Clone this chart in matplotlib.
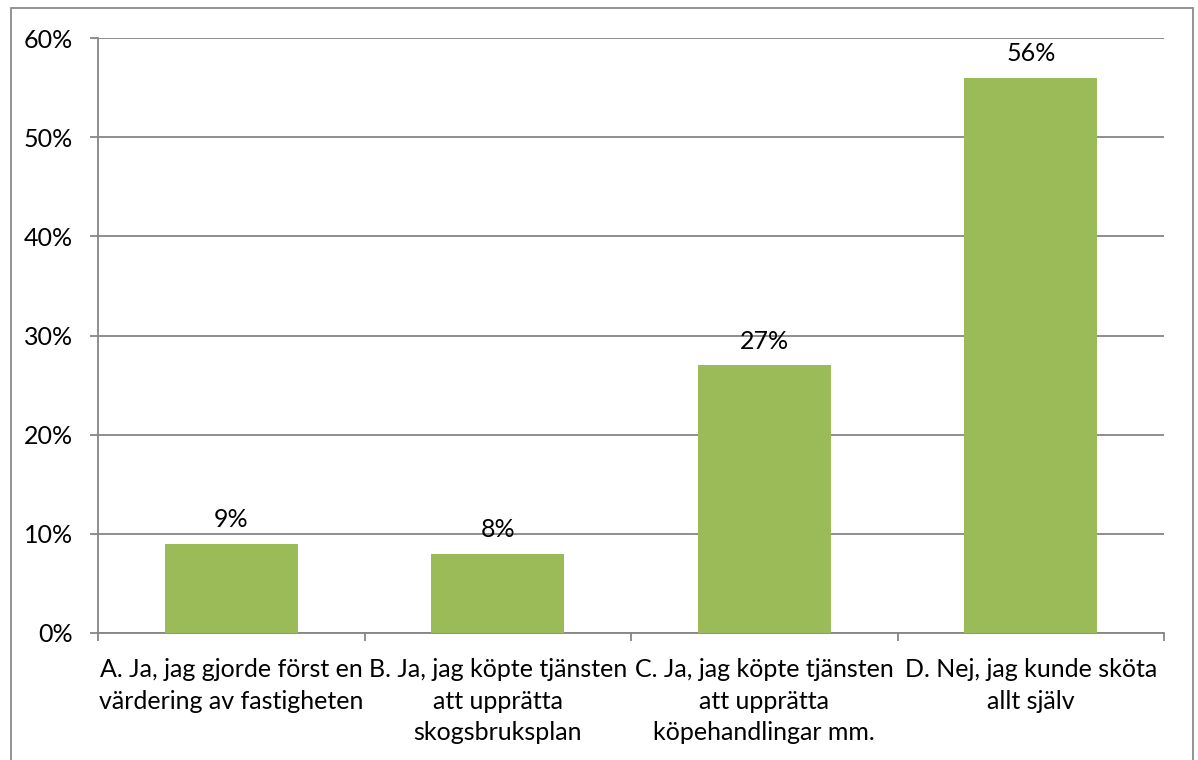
import matplotlib
matplotlib.use("Agg")
import matplotlib.pyplot as plt
from matplotlib.patches import Rectangle
from matplotlib.ticker import FixedLocator, FuncFormatter

categories = [
    "A. Ja, jag gjorde först en\nvärdering av fastigheten",
    "B. Ja, jag köpte tjänsten\natt upprätta\nskogsbruksplan",
    "C. Ja, jag köpte tjänsten\natt upprätta\nköpehandlingar mm.",
    "D. Nej, jag kunde sköta\nallt själv",
]
values = [9, 8, 27, 56]
yticks = [0, 10, 20, 30, 40, 50, 60]

plt.rcParams['font.family'] = ['Lato', 'DejaVu Sans']
W, H = 1198, 760
fig = plt.figure(figsize=(W / 100, H / 100), dpi=100)
fig.patch.set_facecolor('white')

FS = 18
ax = fig.add_axes([98 / W, (H - 633) / H, (1164 - 98) / W, (633 - 38) / H])
gray = '#868686'
x = list(range(len(values)))
ax.bar(x, values, width=0.5, color='#9BBB59', zorder=3)
for xi, v in zip(x, values):
    ax.annotate(f"{v}%", (xi, v), xytext=(0, 9), textcoords='offset points',
                ha='center', va='bottom', fontsize=FS, color='black')

ax.set_xlim(-0.5, len(values) - 0.5)
ax.set_ylim(0, 60)
ax.set_yticks(yticks)
ax.yaxis.set_major_formatter(FuncFormatter(lambda v, p: f"{int(v)}%"))
ax.yaxis.grid(True, color=gray, linewidth=1.3, zorder=0)
ax.set_axisbelow(True)

ax.set_xticks(x)
ax.set_xticklabels(categories, fontsize=FS, linespacing=1.45)
ax.xaxis.set_minor_locator(FixedLocator([i - 0.5 for i in range(len(values) + 1)]))
ax.tick_params(axis='x', which='major', length=0, pad=18)
ax.tick_params(axis='x', which='minor', length=6, width=1.3, color=gray)
ax.tick_params(axis='y', length=6, width=1.3, color=gray, pad=12, labelsize=FS)

for s in ['top', 'right']:
    ax.spines[s].set_visible(False)
for s in ['left', 'bottom']:
    ax.spines[s].set_color(gray)
    ax.spines[s].set_linewidth(1.3)

fig.patches.append(Rectangle((10.5 / W, -0.1), (1192.5 - 10.5) / W, (H - 8) / H + 0.1,
                             transform=fig.transFigure, fill=False,
                             edgecolor='#8a8a8a', linewidth=1.3))

fig.savefig('out.png', dpi=100, facecolor='white')
